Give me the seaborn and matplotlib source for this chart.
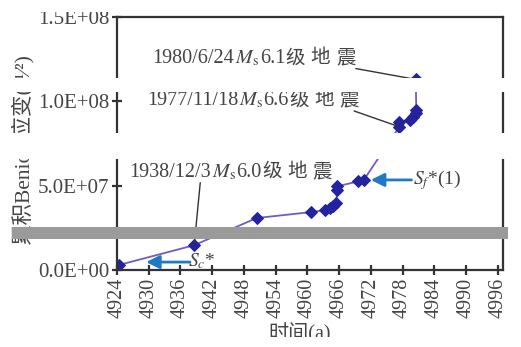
import matplotlib
matplotlib.use("Agg")
import matplotlib.pyplot as plt
from matplotlib.patches import Rectangle
from matplotlib.offsetbox import TextArea, HPacker, AnnotationBbox
import seaborn as sns
import pandas as pd

# ---- data ----
years = [4924.4, 4938.6, 4950.4, 4960.6, 4963.3, 4964.3, 4964.8, 4965.5,
         4965.6, 4965.6, 4969.6, 4970.7, 4977.4, 4977.4, 4979.4, 4980.0,
         4980.6, 4980.6, 4980.5]
strain = [3.0e6, 1.47e7, 3.08e7, 3.43e7, 3.55e7, 3.70e7, 3.80e7, 4.00e7,
          4.75e7, 4.96e7, 5.25e7, 5.35e7, 8.49e7, 8.78e7, 8.92e7, 9.08e7,
          9.30e7, 9.47e7, 1.13e8]
xticks = list(range(4924, 4997, 6))
yticks = [0, 5e7, 1e8, 1.5e8]
ytick_labels = ["0.0E+00", "5.0E+07", "1.0E+08", "1.5E+08"]
ylabel = "累积Benioff应变(J¹⁄²)"
xlabel = "时间(a)"
eq_dates = ["1980/6/24", "1977/11/18", "1938/12/3"]
eq_mags = ["6.1", "6.6", "6.0"]
eq_suffix = ["级", "地", "震"]

df = pd.DataFrame({"year": years, "strain": strain})

sns.set_theme(style="ticks")
FAM = ["Liberation Serif", "Noto Sans CJK SC", "DejaVu Sans"]
plt.rcParams["font.family"] = FAM
plt.rcParams["mathtext.fontset"] = "stix"

fig = plt.figure(figsize=(5.21, 3.47), dpi=100)
ax = fig.add_axes([117 / 521, 1 - 270 / 347, (503 - 117) / 521, (270 - 17) / 347])

sns.lineplot(data=df, x="year", y="strain", sort=False, estimator=None,
             color="#6f5cc4", lw=1.3, marker="D", markersize=6.5,
             markerfacecolor="#2323a0", markeredgecolor="#2323a0", ax=ax)

ax.set_xlim(4924, 4997)
ax.set_ylim(0, 1.5e8)
ax.set_xticks(xticks)
ax.set_xticklabels([str(t) for t in xticks], rotation=90, fontsize=14.5, color="#444444")
ax.set_yticks(yticks)
ax.set_yticklabels(ytick_labels, fontsize=15, color="#444444")
ax.set_xlabel("")
ax.set_ylabel("")
for s in ax.spines.values():
    s.set_visible(True)
    s.set_color("#333333")
    s.set_linewidth(1.6)
ax.tick_params(direction="inout", length=7, width=1.6, color="#333333", pad=2)

TC = "#444444"
FS = 14.5


def eq_box(date, mag):
    cjk = HPacker(children=[TextArea(c, textprops=dict(fontsize=FS - 0.5, color=TC,
                                                       family=["Noto Sans CJK SC"]))
                            for c in eq_suffix], pad=0, sep=4, align="baseline")
    parts = [
        TextArea(date, textprops=dict(fontsize=FS, color=TC, family=FAM)),
        TextArea("$M_\\mathrm{s}$", textprops=dict(fontsize=FS, color=TC)),
        TextArea(mag, textprops=dict(fontsize=FS, color=TC, family=FAM)),
        cjk,
    ]
    return HPacker(children=parts, pad=0, sep=0.5, align="baseline")


line_kw = dict(arrowstyle="-", color="#333333", lw=1.0, shrinkA=0, shrinkB=0)
ann_specs = [
    ((4980.5, 1.13e8), (4949.9, 1.257e8), (1.0, 0.0)),
    ((4977.4, 8.49e7), (4949.7, 1.008e8), (0.97, 0.0)),
    ((4938.6, 1.47e7), (4945.5, 5.83e7), (0.35, 0.0)),
]
for i, (xy, xyt, rp) in enumerate(ann_specs):
    ab = AnnotationBbox(eq_box(eq_dates[i], eq_mags[i]), xy, xybox=xyt,
                        xycoords="data", boxcoords="data", frameon=False,
                        pad=0, box_alignment=(0.5, 0.5),
                        arrowprops=dict(relpos=rp, **line_kw))
    ax.add_artist(ab)

arrow_kw = dict(arrowstyle="-|>", color="#1f7ac6", lw=2.0, mutation_scale=20,
                shrinkA=0, shrinkB=0)
ax.annotate("", xy=(4929.5, 4.7e6), xytext=(4937.8, 4.7e6), arrowprops=arrow_kw)
ax.text(4940.1, 5.3e6, "$S_c$*", fontsize=14, color=TC, ha="center", va="center")
ax.annotate("", xy=(4972.0, 5.34e7), xytext=(4979.7, 5.34e7), arrowprops=arrow_kw)
ax.text(4984.5, 5.34e7, "$S_f$*(1)", fontsize=14, color=TC, ha="center", va="center")

fig.text(23 / 521, 1 - 149 / 347, ylabel, rotation=90, fontsize=15.5,
         color=TC, ha="center", va="center", family=FAM)
fig.text(300 / 521, 1 - 334 / 347, xlabel, fontsize=14.5,
         color=TC, ha="center", va="center", family=FAM)


# scan artefacts of the reference image
def band(y0, y1, x0=0, x1=521, color="white"):
    fig.add_artist(Rectangle((x0 / 521, 1 - y1 / 347), (x1 - x0) / 521, (y1 - y0) / 347,
                             transform=fig.transFigure, facecolor=color,
                             edgecolor="none", zorder=10))


band(0, 12)
band(78, 92)
band(133, 159)
band(337, 347)
band(0, 347, 0, 11)
band(227, 239, 12, 508, color="#9a9a9a")

fig.savefig("out.png", dpi=100)
